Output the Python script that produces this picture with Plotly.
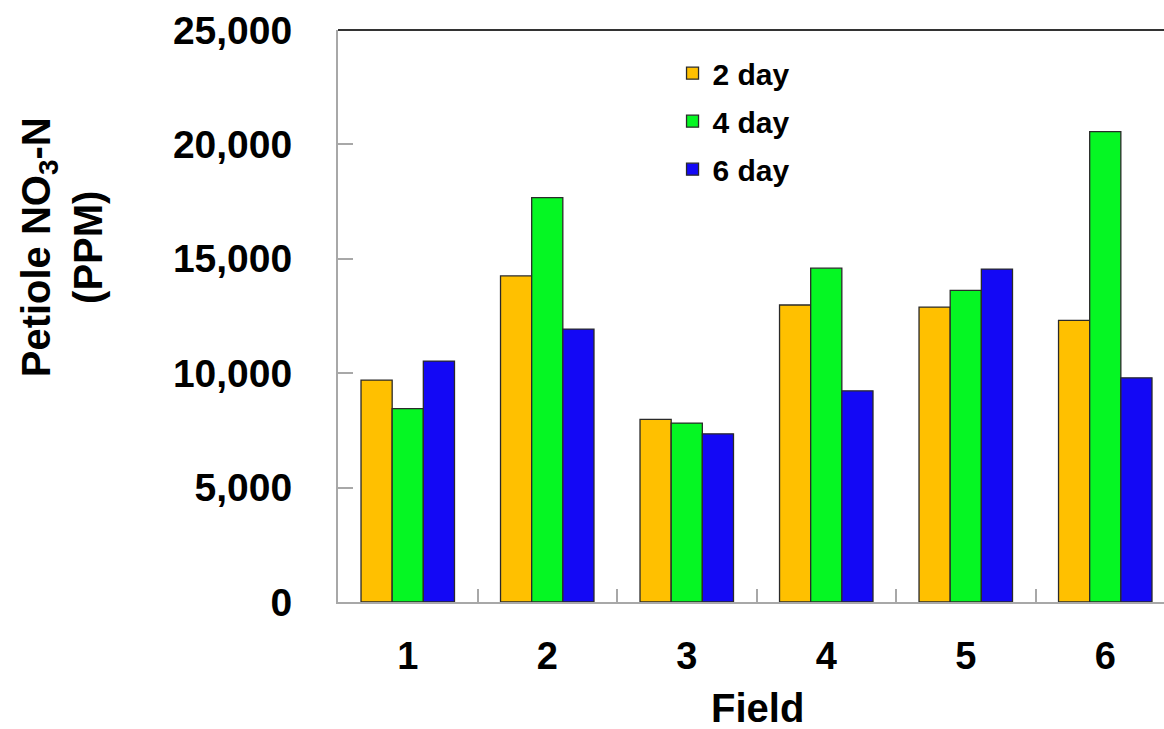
import plotly.graph_objects as go

fields = ["1", "2", "3", "4", "5", "6"]
day2 = [9700, 14250, 7980, 12980, 12890, 12310]
day4 = [8450, 17670, 7820, 14590, 13620, 20560]
day6 = [10530, 11930, 7350, 9230, 14550, 9800]
series_names = ["2 day", "4 day", "6 day"]
colors = ["#FFC000", "#05F723", "#1308F5"]

W, H = 1164, 729
ML, MR, MT, MB = 338, 0, 30, 127
PW, PH = W - ML - MR, H - MT - MB

fig = go.Figure()
for name, vals, col in zip(series_names, [day2, day4, day6], colors):
    fig.add_trace(go.Bar(
        x=fields, y=vals, name=name, legendgroup=name,
        marker=dict(color=col, line=dict(color="#2a2a2a", width=1.3)),
    ))

fig.update_layout(
    width=W, height=H,
    margin=dict(l=ML, r=MR, t=MT, b=MB, pad=0, autoexpand=False),
    paper_bgcolor="white", plot_bgcolor="white",
    barmode="group", bargap=0.33, bargroupgap=0,
    font=dict(family="Liberation Sans, Arial, sans-serif", color="black"),
    legend=dict(
        x=0.405, y=0.97, xanchor="left", yanchor="top",
        font=dict(size=30, color="black", family="Liberation Sans, Arial, sans-serif", weight="bold"),
        bgcolor="rgba(0,0,0,0)", tracegroupgap=6,
    ),
    showlegend=True,
)

fig.update_xaxes(
    type="category", range=[-0.5, 5.421], automargin=False,
    showline=True, linecolor="#a8a8a8", linewidth=2,
    ticks="inside", tickson="boundaries", ticklen=13, tickcolor="#a8a8a8", tickwidth=2,
    tickfont=dict(size=38, family="Liberation Sans Narrow, Arial Narrow, Liberation Sans, Arial",
                  color="black", weight="bold"),
    ticklabelstandoff=19,
    showgrid=False, zeroline=False,
)
fig.update_yaxes(
    range=[0, 25000], dtick=5000, tickformat=",", automargin=False,
    showline=True, linecolor="#a8a8a8", linewidth=2,
    ticks="inside", ticklen=15, tickcolor="#a8a8a8", tickwidth=2,
    tickfont=dict(size=39, family="Liberation Sans, Arial", color="black", weight="bold"),
    ticklabelstandoff=36,
    showgrid=False, zeroline=False,
)

# top frame line
fig.add_shape(type="line", xref="paper", yref="paper", x0=0, x1=1, y0=1, y1=1,
              line=dict(color="#333333", width=2))

# y-axis title as rotated annotation
fig.add_annotation(
    text="<b>Petiole NO<sub>3</sub>-N<br>(PPM)</b>",
    xref="paper", yref="paper",
    x=(62 - ML) / PW, y=(601.7 - 247) / PH,
    xanchor="center", yanchor="middle",
    textangle=-90, showarrow=False,
    font=dict(size=40, family="Liberation Sans, Arial", color="black"),
)
# x-axis title
fig.add_annotation(
    text="<b>Field</b>",
    xref="paper", yref="paper",
    x=(757 - ML) / PW, y=(601.7 - 708) / PH,
    xanchor="center", yanchor="middle", showarrow=False,
    font=dict(size=40, family="Liberation Sans Narrow, Arial Narrow, Liberation Sans, Arial", color="black"),
)

fig.write_html("out.html")
